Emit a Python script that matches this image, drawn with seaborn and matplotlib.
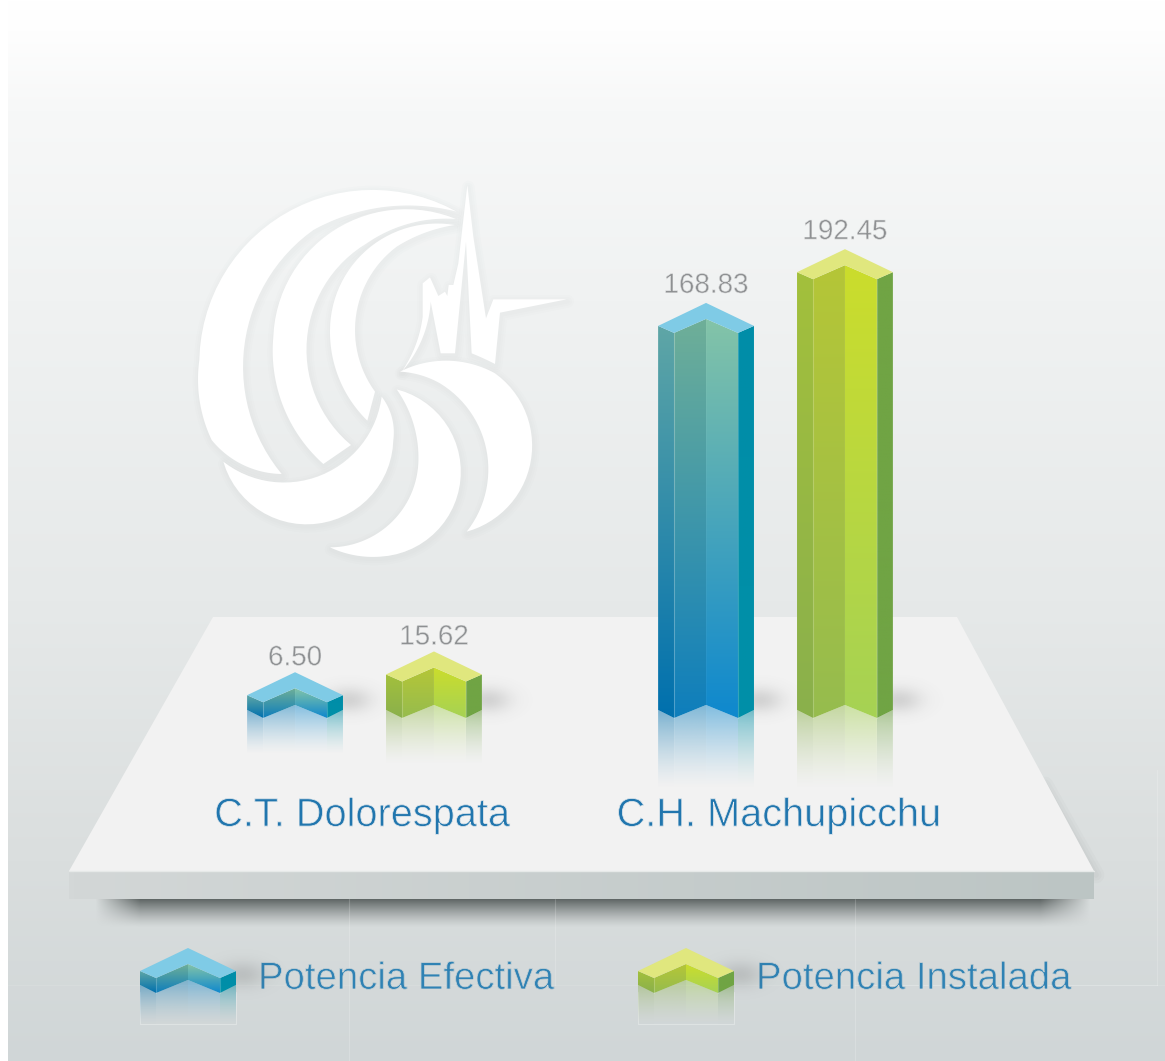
import matplotlib
matplotlib.use("Agg")
import matplotlib.pyplot as plt
import matplotlib.patheffects as pe
from matplotlib.colors import to_rgb
from matplotlib.patches import Polygon
from matplotlib.transforms import ScaledTranslation
import numpy as np
import pandas as pd
import seaborn as sb

# Datos
centrales = ["C.T. Dolorespata", "C.H. Machupicchu"]
tipos = ["Potencia Efectiva", "Potencia Instalada"]
efectiva = [6.50, 168.83]
instalada = [15.62, 192.45]

# Colores de cada cara: (arriba, abajo)
caras_azul = [("#5FA6A6", "#0070AE"), ("#6FAF98", "#0E7EBC"), ("#84C4A8", "#0E88CE"), ("#008DA8", "#0090A8")]
caras_verde = [("#A3C03C", "#8AB04C"), ("#B5C637", "#96BC4E"), ("#CBDD2C", "#A6D254"), ("#70A444", "#70A444")]
tapa_azul = "#7FCBE6"
tapa_verde = "#E0E77E"
texto_gris = "#8E9092"
texto_azul = "#2176AE"

W, H = 1165, 1061
X0, PX_CAT = 364.5, 411.0   # pixel de la categoria 0 y pixeles entre categorias
Y0, PX_MW = 710.0, 2.275    # pixel del valor 0 y pixeles por unidad

sb.set_theme(style="white")
plt.rcParams["font.family"] = ["Liberation Sans", "DejaVu Sans"]


def px2x(p):
    return (p - X0) / PX_CAT


def py2y(p):
    return (Y0 - p) / PX_MW


def arc(p1, p2, p3, n=30):
    # arco de circulo que pasa por tres puntos
    (ax_, ay), (bx, by), (cx, cy) = p1, p2, p3
    d = 2 * (ax_ * (by - cy) + bx * (cy - ay) + cx * (ay - by))
    ux = ((ax_**2 + ay**2) * (by - cy) + (bx**2 + by**2) * (cy - ay) + (cx**2 + cy**2) * (ay - by)) / d
    uy = ((ax_**2 + ay**2) * (cx - bx) + (bx**2 + by**2) * (ax_ - cx) + (cx**2 + cy**2) * (bx - ax_)) / d
    r = np.hypot(ax_ - ux, ay - uy)
    a1 = np.arctan2(ay - uy, ax_ - ux)
    a2 = np.arctan2(by - uy, bx - ux)
    a3 = np.arctan2(cy - uy, cx - ux)
    d12 = (a2 - a1) % (2 * np.pi)
    d13 = (a3 - a1) % (2 * np.pi)
    if d12 > d13:
        d13 -= 2 * np.pi
    t = a1 + np.linspace(0, d13, n)
    return np.column_stack([ux + r * np.cos(t), uy + r * np.sin(t)])


def grad_face(ax, xs, ys, top, bottom, z):
    # cara con degradado vertical, recortada con un poligono
    c1, c2 = np.array(to_rgb(top)), np.array(to_rgb(bottom))
    t = np.linspace(0, 1, 128)[:, None]
    img = (c2 * (1 - t) + c1 * t)[:, None, :]
    poly = Polygon(np.column_stack([xs, ys]), transform=ax.transData)
    im = ax.imshow(img, extent=[min(xs), max(xs), min(ys), max(ys)], origin="lower",
                   aspect="auto", interpolation="bilinear", zorder=z)
    im.set_clip_path(poly)


def fade_face(ax, xs, ys, color, alpha, z):
    # reflejo: mismo poligono, se desvanece hacia abajo
    c = np.array(to_rgb(color))
    t = np.linspace(0, 1, 128)
    img = np.zeros((128, 1, 4))
    img[:, 0, :3] = c
    img[:, 0, 3] = alpha * t ** 1.4
    poly = Polygon(np.column_stack([xs, ys]), transform=ax.transData)
    im = ax.imshow(img, extent=[min(xs), max(xs), min(ys), max(ys)], origin="lower",
                   aspect="auto", interpolation="bilinear", zorder=z)
    im.set_clip_path(poly)


def blob(ax, cx, cy, sx, sy, alpha, z):
    # sombra suave, en pixeles
    xx = np.linspace(-3, 3, 80)
    g = np.exp(-xx ** 2 / 2)
    img = np.zeros((80, 80, 4))
    img[..., :3] = 0.4
    img[..., 3] = alpha * np.outer(g, g)
    ax.imshow(img, extent=[px2x(cx - 3 * sx), px2x(cx + 3 * sx), py2y(cy + 3 * sy), py2y(cy - 3 * sy)],
              aspect="auto", interpolation="bilinear", zorder=z)


def draw_block(ax, x, w, base, h, caras, tapa, refl_px, refl_alpha=0.5):
    dy = 1 / PX_MW
    e = w / 6
    c = x + w / 2
    xb = [x, x + e, c, x + w - e, x + w]
    top = base + h
    yb = [base, base - 8 * dy, base + 5 * dy, base - 8 * dy, base]
    yt = [top, top - 7 * dy, top + 7 * dy, top - 7 * dy, top]
    blob(ax, (x + w) * PX_CAT + X0 + 6, Y0 - base * PX_MW - 10, 16, 9, 0.22, 1)
    fondo_r = base - 8 * dy - refl_px * dy
    for i in range(4):
        fx = [xb[i], xb[i + 1], xb[i + 1], xb[i]]
        fy = [yb[i], yb[i + 1], yt[i + 1], yt[i]]
        grad_face(ax, fx, fy, caras[i][0], caras[i][1], 3)
        ry = [yb[i], yb[i + 1], fondo_r, fondo_r]
        fade_face(ax, fx, ry, caras[i][1], refl_alpha, 2)
    for i in (1, 3):
        ax.plot([xb[i], xb[i]], [yb[i], yt[i]], color="white", alpha=0.2, lw=0.8, zorder=4)
    cap = [(xb[0], yt[0]), (c, top + 23 * dy), (xb[4], yt[4]), (xb[3], yt[3]), (xb[2], yt[2]), (xb[1], yt[1])]
    ax.add_patch(Polygon(cap, fc=tapa, ec="none", zorder=4))


def thin(color, lw=0.55):
    # la letra del original es light: se adelgaza pintando un trazo del color del fondo encima
    return [pe.Normal(), pe.Stroke(linewidth=lw, foreground=color)]


fig = plt.figure(figsize=(W / 100, H / 100), dpi=100, facecolor="white")

# Fondo y plataforma en pixeles
bg = fig.add_axes([0, 0, 1, 1], zorder=0)
bg.set_xlim(0, W)
bg.set_ylim(H, 0)
bg.axis("off")
bg.set_autoscale_on(False)

stops_y = [0, 30, 110, 300, 600, 860, 1061]
stops_c = ["#FFFFFF", "#FEFEFE", "#F7F8F8", "#F0F2F2", "#E6E9E9", "#DADEDE", "#D0D6D7"]
fila = np.arange(H)
rgb = np.array([to_rgb(c) for c in stops_c])
fondo = np.stack([np.interp(fila, stops_y, rgb[:, k]) for k in range(3)], axis=1)[:, None, :]
bg.imshow(fondo, extent=[8, W, H, 0], aspect="auto", zorder=0)

# sombra bajo la plataforma
sx = np.clip((np.arange(W) - 95) / 45, 0, 1) * np.clip((1090 - np.arange(W)) / 50, 0, 1)
sy = np.clip(1 - np.arange(30) / 28, 0, 1) ** 1.3
sombra = np.zeros((30, W, 4))
sombra[..., :3] = to_rgb("#5A6160")
sombra[..., 3] = 0.95 * np.outer(sy, sx)
bg.imshow(sombra, extent=[0, W, 929, 899], aspect="auto", zorder=1)

# sombra suave del borde derecho
for lw in (12, 8, 4):
    bg.plot([1045, 1096], [785, 875], color="#6F7777", alpha=0.035, lw=lw, zorder=1)

bg.add_patch(Polygon([(213, 617), (957, 617), (1094, 871), (69, 871)], fc="#F2F2F2", ec="none", zorder=2))
lado = np.linspace(to_rgb("#D3D7D7"), to_rgb("#BCC5C4"), 200)[None, :, :]
bg.imshow(lado, extent=[69, 1094, 899, 871], aspect="auto", zorder=2)
bg.plot([69, 1094], [871, 871], color="#E6E9E8", lw=1, zorder=3)

# lineas tenues del original
for xl, y1, y2 in [(349, 871, 1061), (555, 899, 985), (855, 899, 1061), (1157, 770, 985)]:
    bg.plot([xl, xl], [y1, y2], color="white", alpha=0.18, lw=0.8, zorder=1.5)
bg.plot([855, 1157], [985, 985], color="white", alpha=0.18, lw=0.8, zorder=1.5)
bg.plot([8, W], [985, 985], color="white", alpha=0.1, lw=0.8, zorder=1.5)

# Logo (contornos, sin relacion con los datos)
logo = [
    [arc((830, 125), (300, 140), (58, 570)), arc((58, 570), (62, 710), (95, 810)),
     arc((95, 810), (180, 880), (305, 912)), arc((305, 912), (190, 560), (400, 180)),
     arc((400, 180), (620, 110), (830, 125))],
    [arc((828, 147), (480, 170), (280, 500)), arc((280, 500), (310, 710), (430, 882)),
     np.array([(430, 882), (513, 825)]), arc((513, 825), (380, 560), (560, 220)),
     arc((560, 220), (690, 160), (828, 147))],
    [arc((825, 165), (560, 240), (450, 480)), arc((450, 480), (475, 620), (562, 752)),
     np.array([(562, 752), (585, 665)]), arc((585, 665), (525, 480), (650, 230)),
     arc((650, 230), (730, 190), (825, 165))],
    [arc((130, 875), (340, 1060), (640, 810)), arc((640, 810), (635, 740), (605, 680)),
     arc((605, 680), (480, 885), (130, 875))],
    [arc((650, 658), (840, 870), (600, 1160)), arc((600, 1160), (520, 1155), (450, 1132)),
     arc((450, 1132), (620, 1070), (715, 880)), arc((715, 880), (700, 760), (650, 658))],
    [arc((660, 605), (800, 572), (945, 610)), arc((945, 610), (1055, 800), (860, 1085)),
     arc((860, 1085), (925, 900), (780, 640)), arc((780, 640), (720, 615), (660, 605))],
    [arc((665, 605), (705, 530), (728, 440)),
     np.array([(728, 340), (750, 322), (775, 378), (795, 365), (802, 378), (806, 345), (820, 345),
               (835, 280), (862, 45), (880, 200), (918, 445), (940, 388), (1160, 388), (960, 428), (945, 582)]),
     arc((945, 582), (910, 565), (875, 550)),
     np.array([(858, 215), (825, 550), (782, 550), (752, 395)]),
     arc((752, 395), (725, 510), (665, 605))],
]
for forma in logo:
    pts = np.vstack(forma)
    pts = np.column_stack([180 + pts[:, 0] / 3, 170 + pts[:, 1] / 3])
    for lw in (9, 6, 3):
        bg.add_patch(Polygon(pts + [1, 2], fc="none", ec="#8A9494", lw=lw, alpha=0.018,
                             joinstyle="round", zorder=4))
for forma in logo:
    pts = np.vstack(forma)
    pts = np.column_stack([180 + pts[:, 0] / 3, 170 + pts[:, 1] / 3])
    bg.add_patch(Polygon(pts, fc="white", ec="none", zorder=5))

# Leyenda, texto
for x_txt, tipo in zip([258, 756], tipos):
    bg.text(x_txt, 989, tipo, fontsize=27.6, color="#2F82B4", va="baseline", ha="left", zorder=6,
            path_effects=thin("#D4D9D9"))

# Barras
df = pd.DataFrame({
    "central": centrales * 2,
    "tipo": [tipos[0]] * 2 + [tipos[1]] * 2,
    "potencia": efectiva + instalada,
})

ax = fig.add_axes([0, 0, 1, 1], zorder=1)
ax.patch.set_alpha(0)
sb.barplot(data=df, x="central", y="potencia", hue="tipo", hue_order=tipos, order=centrales,
           width=0.676, gap=0.31, palette=[tapa_azul, tapa_verde], legend=False, ax=ax)
ax.set_xlim(px2x(0), px2x(W))
ax.set_ylim(py2y(H), py2y(0))
ax.set_autoscale_on(False)
ax.set_xlabel("")
ax.set_ylabel("")
ax.set_yticks([])
sb.despine(ax=ax, left=True, bottom=True)
ax.spines["bottom"].set_position(("data", 0))
ax.tick_params(axis="x", length=0, pad=62, labelsize=28.6, labelcolor=texto_azul)
for lab, dx in zip(ax.get_xticklabels(), [-2.5, 3.5]):
    lab.set_transform(lab.get_transform() + ScaledTranslation(dx / 100, 0, fig.dpi_scale_trans))
    lab.set_path_effects(thin("#F2F2F2"))

estilos = [(caras_azul, tapa_azul), (caras_verde, tapa_verde)]
for cont, (caras, tapa) in zip(ax.containers, estilos):
    for bar in cont:
        h = bar.get_height()
        bar.set_alpha(0)
        draw_block(ax, bar.get_x(), bar.get_width(), 0, h, caras, tapa, min(30 + h * 1.1, 72))
    etiquetas = ax.bar_label(cont, fmt="%.2f", padding=19.5, fontsize=20, color=texto_gris, zorder=6)
    for t, bar in zip(etiquetas, cont):
        if bar.get_height() < 50:
            t.xyann = (0, 17.3)
        t.set_path_effects(thin("#F1F2F2", 0.4))

# Iconos de la leyenda
ancho = 96 / PX_CAT
for x_ic, (caras, tapa) in zip([140, 638], estilos):
    draw_block(ax, px2x(x_ic), ancho, py2y(985), 14 / PX_MW, caras, tapa, 32, 0.45)
    bg.plot([x_ic, x_ic, x_ic + 96, x_ic + 96], [992, 1024, 1024, 992], color="white", alpha=0.3, lw=0.8, zorder=2)

fig.savefig("out.png", dpi=100)
